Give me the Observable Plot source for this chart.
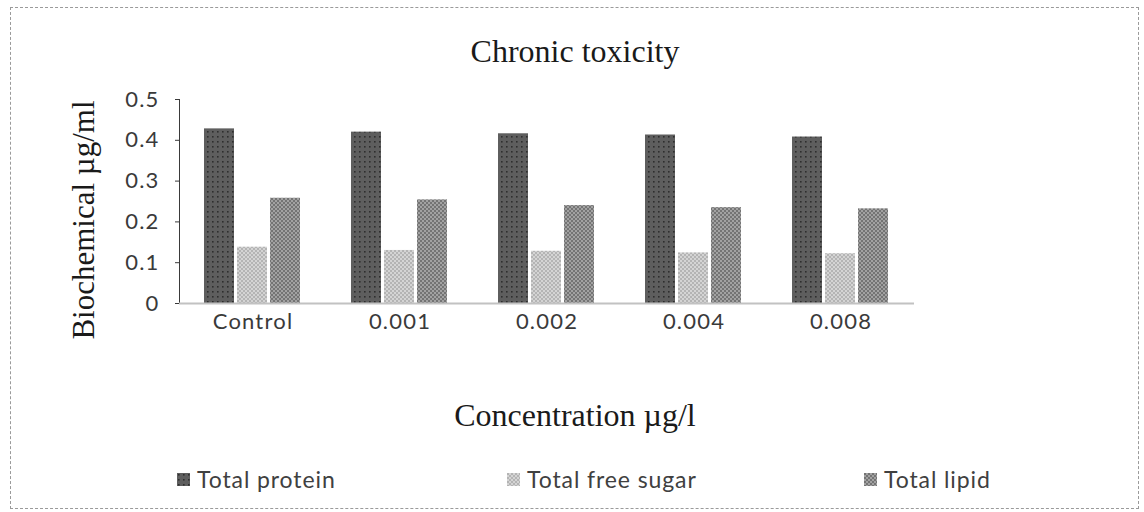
<!DOCTYPE html>
<html>
<head>
<meta charset="utf-8">
<script src="https://cdn.jsdelivr.net/npm/d3@7"></script>
<script src="https://cdn.jsdelivr.net/npm/@observablehq/plot@0.6"></script>
<style>
  html, body { margin: 0; padding: 0; background: #fff; }
  #wrap { position: relative; width: 1144px; height: 512px; overflow: hidden; }
  #border { position: absolute; left: 10px; top: 7px; width: 1129px; height: 502px; border: 1px dashed #9a9a9a; box-sizing: border-box; pointer-events: none; }
  .serif { position: absolute; font-family: "Liberation Serif", "DejaVu Serif", serif; color: #1a1a1a; white-space: nowrap; }
  #title { left: 0; width: 1150px; top: 33px; text-align: center; font-size: 32px; }
  #xlabel { left: 0; width: 1150px; top: 397px; text-align: center; font-size: 32px; }
  #ylabel { left: 84px; top: 220px; font-size: 31px; transform: translate(-50%, -50%) rotate(-90deg); }
  #legend { position: absolute; top: 465px; left: 0; width: 1144px; height: 28px; font-family: Lato, sans-serif; font-size: 23px; letter-spacing: 0.9px; color: #404040; }
  .item { position: absolute; display: flex; align-items: center; white-space: nowrap; }
  .item svg { margin-right: 7px; }
  svg.chart g[aria-label="y-axis tick"] { stroke: #b5b5b5; }
  svg.chart g[aria-label="y-axis tick label"], svg.chart g[aria-label="fx-axis tick label"] { fill: #3a3a3a; letter-spacing: 1.2px; }
</style>
</head>
<body>
<div id="wrap">
  <div id="chart"></div>
  <div id="title" class="serif">Chronic toxicity</div>
  <div id="xlabel" class="serif">Concentration µg/l</div>
  <div id="ylabel" class="serif">Biochemical µg/ml</div>
  <div id="legend"></div>
  <div id="border"></div>
</div>
<script>
// ---- data ----
const categories = ["Control", "0.001", "0.002", "0.004", "0.008"];
const seriesNames = ["Total protein", "Total free sugar", "Total lipid"];
const protein = [0.428, 0.420, 0.416, 0.413, 0.408];
const sugar   = [0.138, 0.130, 0.128, 0.124, 0.122];
const lipid   = [0.258, 0.254, 0.240, 0.235, 0.232];
const yTicks  = [0, 0.1, 0.2, 0.3, 0.4, 0.5];
const yTickLabels = ["0", "0.1", "0.2", "0.3", "0.4", "0.5"];

const seriesValues = [protein, sugar, lipid];
const rows = categories.flatMap((c, i) =>
  seriesNames.map((s, j) => ({conc: c, series: s, value: seriesValues[j][i]})));

const patternIds = ["patProtein", "patSugar", "patLipid"];
const patternFills = patternIds.map(id => `url(#${id})`);

const chart = Plot.plot({
  width: 1144,
  height: 512,
  marginTop: 99,
  marginBottom: 209,
  marginLeft: 178,
  marginRight: 229,
  style: {fontFamily: "Lato, sans-serif", fontSize: "22px", background: "transparent", color: "#3a3a3a"},
  fx: {domain: categories, padding: 0, label: null, tickSize: 0, tickPadding: 10, axis: "bottom"},
  x: {domain: seriesNames, axis: null, paddingInner: 0.09, paddingOuter: 0.71},
  y: {domain: [0, 0.5], ticks: yTicks, tickFormat: d => yTickLabels[yTicks.indexOf(d)] ?? d, label: null, tickSize: 4, tickPadding: 16, line: true},
  color: {domain: seriesNames, range: patternFills},
  marks: [
    Plot.barY(rows, {fx: "conc", x: "series", y: "value", fill: "series"}),
    Plot.ruleY([0], {stroke: "#c2c2c2", strokeWidth: 2})
  ]
});
chart.classList.add("chart");

// pattern definitions
const defs = `
<defs>
  <pattern id="patProtein" width="5" height="5" patternUnits="userSpaceOnUse">
    <rect width="5" height="5" fill="#5e5e5e"/>
    <rect x="1" y="1" width="1.6" height="1.6" fill="#2e2e2e"/>
  </pattern>
  <pattern id="patSugar" width="4" height="4" patternUnits="userSpaceOnUse">
    <rect width="4" height="4" fill="#d4d4d4"/>
    <rect width="2" height="2" fill="#b4b4b4"/>
    <rect x="2" y="2" width="2" height="2" fill="#b4b4b4"/>
  </pattern>
  <pattern id="patLipid" width="4" height="4" patternUnits="userSpaceOnUse">
    <rect width="4" height="4" fill="#a2a2a2"/>
    <rect width="2" height="2" fill="#747474"/>
    <rect x="2" y="2" width="2" height="2" fill="#747474"/>
  </pattern>
</defs>`;
chart.insertAdjacentHTML("afterbegin", defs);
document.getElementById("chart").appendChild(chart);

// legend
const legendLeft = [177, 507, 864];
const legend = document.getElementById("legend");
seriesNames.forEach((s, i) => {
  const item = document.createElement("div");
  item.className = "item";
  item.style.left = legendLeft[i] + "px";
  item.innerHTML = `<svg width="13" height="13"><rect width="13" height="13" fill="${patternFills[i]}"/></svg><span>${s}</span>`;
  legend.appendChild(item);
});
</script>
</body>
</html>
